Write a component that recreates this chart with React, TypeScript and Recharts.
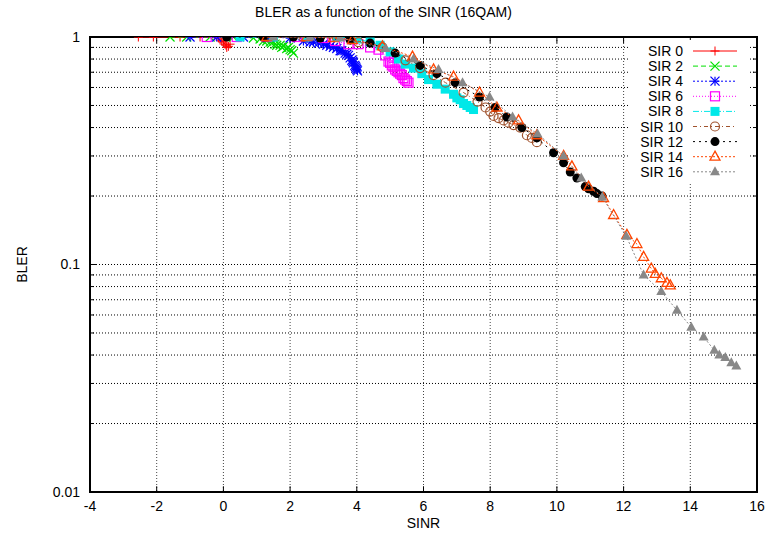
import {
  CartesianGrid,
  Label,
  Legend,
  ReferenceArea,
  ReferenceLine,
  Scatter,
  ScatterChart,
  XAxis,
  YAxis,
} from "recharts";

// --- data (SINR in dB, BLER) ---
const sir0X = [-2.55, -2.1, -1.3, -0.7, -0.15, -0.1, -0.05, 0.0, 0.05, 0.08, 0.1, 0.15, 0.2];
const sir0Y = [1, 1, 1, 1, 0.99, 0.97, 0.96, 0.95, 0.93, 0.92, 0.9, 0.91, 0.93];

const sir2X = [-1.6, -1.1, -0.4, 0.3, 0.9, 1.1, 1.2, 1.3, 1.4, 1.45, 1.55, 1.6, 1.7, 1.75, 1.8, 1.9, 1.95, 2.0, 2.05, 2.1];
const sir2Y = [1, 1, 1, 1, 0.99, 0.98, 0.96, 0.96, 0.95, 0.94, 0.93, 0.92, 0.92, 0.9, 0.91, 0.89, 0.9, 0.88, 0.87, 0.85];

const sir4X = [-1.0, -0.2, 0.6, 1.4, 2.0, 2.4, 2.6, 2.7, 2.85, 3.0, 3.1, 3.2, 3.3, 3.4, 3.5, 3.55, 3.65, 3.7, 3.75, 3.8, 3.85, 3.88, 3.9, 3.94, 3.96, 3.98, 4.0, 4.02];
const sir4Y = [1, 1, 1, 1, 0.99, 0.96, 0.95, 0.95, 0.94, 0.93, 0.92, 0.91, 0.9, 0.89, 0.87, 0.87, 0.85, 0.84, 0.83, 0.81, 0.79, 0.78, 0.77, 0.75, 0.74, 0.73, 0.72, 0.71];

const sir6X = [-0.5, 0.4, 1.3, 2.2, 3.0, 3.35, 3.75, 4.05, 4.4, 4.65, 4.85, 4.95, 5.0, 5.05, 5.1, 5.15, 5.2, 5.25, 5.3, 5.35, 5.4, 5.45, 5.5, 5.55];
const sir6Y = [1, 1, 1, 1, 0.99, 0.96, 0.93, 0.93, 0.9, 0.88, 0.83, 0.78, 0.77, 0.75, 0.74, 0.72, 0.71, 0.7, 0.69, 0.68, 0.66, 0.65, 0.64, 0.63];

const sir8X = [0.5, 1.5, 2.5, 3.4, 4.0, 4.4, 4.7, 5.0, 5.25, 5.45, 5.7, 5.95, 6.15, 6.4, 6.65, 6.9, 7.0, 7.1, 7.2, 7.3, 7.4, 7.5];
const sir8Y = [1, 1, 1, 1, 0.98, 0.95, 0.92, 0.86, 0.8, 0.76, 0.73, 0.69, 0.65, 0.62, 0.59, 0.56, 0.54, 0.53, 0.51, 0.5, 0.49, 0.48];

const sir10X = [1.3, 2.4, 3.4, 4.05, 4.77, 5.46, 5.9, 6.3, 6.66, 7.2, 7.62, 7.86, 8.0, 8.1, 8.25, 8.4, 8.55, 8.7, 8.9, 9.1, 9.25, 9.4];
const sir10Y = [1, 1, 1, 0.95, 0.9, 0.79, 0.73, 0.68, 0.63, 0.57, 0.52, 0.49, 0.47, 0.45, 0.44, 0.43, 0.42, 0.41, 0.4, 0.37, 0.36, 0.345];

const sir12X = [0.1, 1.2, 2.1, 2.9, 3.8, 4.4, 5.15, 5.9, 6.4, 6.95, 7.68, 8.15, 8.5, 8.95, 9.4, 9.9, 10.2, 10.4, 10.6, 10.85, 10.95, 11.1, 11.2, 11.35];
const sir12Y = [1, 1, 1, 0.99, 0.97, 0.94, 0.85, 0.75, 0.69, 0.63, 0.545, 0.49, 0.445, 0.4, 0.36, 0.31, 0.28, 0.255, 0.24, 0.22, 0.215, 0.21, 0.205, 0.2];

const sir14X = [1.3, 2.5, 3.3, 3.87, 4.77, 5.67, 6.3, 6.9, 7.68, 8.2, 8.85, 9.4, 10.2, 10.45, 10.95, 11.4, 11.7, 12.1, 12.4, 12.6, 12.83, 12.95, 13.13, 13.3, 13.4];
const sir14Y = [1, 1, 0.99, 0.97, 0.91, 0.82, 0.72, 0.67, 0.57, 0.49, 0.43, 0.37, 0.3, 0.27, 0.22, 0.196, 0.165, 0.135, 0.123, 0.108, 0.096, 0.091, 0.087, 0.083, 0.081];

const sir16X = [1.5, 2.6, 3.5, 4.86, 5.7, 6.45, 7.17, 7.98, 8.67, 9.42, 10.2, 10.73, 11.36, 12.08, 12.6, 13.13, 13.6, 14.03, 14.4, 14.72, 14.87, 15.05, 15.23, 15.38];
const sir16Y = [1, 1, 0.99, 0.89, 0.8, 0.72, 0.63, 0.545, 0.445, 0.375, 0.3, 0.24, 0.198, 0.133, 0.09, 0.076, 0.063, 0.053, 0.048, 0.042, 0.04, 0.039, 0.037, 0.0358];

const seriesNames = ["SIR 0", "SIR 2", "SIR 4", "SIR 6", "SIR 8", "SIR 10", "SIR 12", "SIR 14", "SIR 16"];
const seriesX = [sir0X, sir2X, sir4X, sir6X, sir8X, sir10X, sir12X, sir14X, sir16X];
const seriesY = [sir0Y, sir2Y, sir4Y, sir6Y, sir8Y, sir10Y, sir12Y, sir14Y, sir16Y];

const xTicks = [-4, -2, 0, 2, 4, 6, 8, 10, 12, 14, 16];
const yLabels = [0.01, 0.1, 1];
const yGrid = [
  0.01, 0.02, 0.03, 0.04, 0.05, 0.06, 0.07, 0.08, 0.09,
  0.1, 0.2, 0.3, 0.4, 0.5, 0.6, 0.7, 0.8, 0.9, 1,
];

// gnuplot-ish line/point styles, one per series
type MarkerKind = "plus" | "cross" | "star" | "square" | "fsquare" | "circle" | "fcircle" | "triangle" | "ftriangle";
const styles: { color: string; dash?: string; marker: MarkerKind }[] = [
  { color: "#ff0000", marker: "plus" },
  { color: "#00e000", dash: "5 3", marker: "cross" },
  { color: "#0000ff", dash: "2 2", marker: "star" },
  { color: "#ff00ff", dash: "1 2", marker: "square" },
  { color: "#00e8e8", dash: "6 2 1 2", marker: "fsquare" },
  { color: "#a0522d", dash: "4 3 1 3", marker: "circle" },
  { color: "#000000", dash: "2 4", marker: "fcircle" },
  { color: "#ff4500", dash: "2 2", marker: "triangle" },
  { color: "#888888", dash: "2 2", marker: "ftriangle" },
];

const FONT = "'Liberation Sans', Arial, Helvetica, sans-serif";
const W = 767;
const H = 541;

function Marker({ kind, cx, cy, color }: { kind: MarkerKind; cx: number; cy: number; color: string }) {
  const r = 4.5;
  switch (kind) {
    case "plus":
      return (
        <g stroke={color} strokeWidth={1}>
          <line x1={cx - r} y1={cy} x2={cx + r} y2={cy} />
          <line x1={cx} y1={cy - r} x2={cx} y2={cy + r} />
        </g>
      );
    case "cross":
      return (
        <g stroke={color} strokeWidth={1.2}>
          <line x1={cx - r} y1={cy - r} x2={cx + r} y2={cy + r} />
          <line x1={cx - r} y1={cy + r} x2={cx + r} y2={cy - r} />
        </g>
      );
    case "star":
      return (
        <g stroke={color} strokeWidth={1.2}>
          <line x1={cx - r} y1={cy} x2={cx + r} y2={cy} />
          <line x1={cx} y1={cy - r} x2={cx} y2={cy + r} />
          <line x1={cx - r} y1={cy - r} x2={cx + r} y2={cy + r} />
          <line x1={cx - r} y1={cy + r} x2={cx + r} y2={cy - r} />
        </g>
      );
    case "square":
      return <rect x={cx - r} y={cy - r} width={2 * r} height={2 * r} fill="none" stroke={color} strokeWidth={1.2} />;
    case "fsquare":
      return <rect x={cx - r} y={cy - r} width={2 * r} height={2 * r} fill={color} />;
    case "circle":
      return <circle cx={cx} cy={cy} r={r} fill="none" stroke={color} strokeWidth={1.2} />;
    case "fcircle":
      return <circle cx={cx} cy={cy} r={r} fill={color} />;
    case "triangle":
      return (
        <polygon
          points={`${cx},${cy - r - 1} ${cx - r - 0.5},${cy + r - 1} ${cx + r + 0.5},${cy + r - 1}`}
          fill="none"
          stroke={color}
          strokeWidth={1.3}
        />
      );
    case "ftriangle":
      return (
        <polygon
          points={`${cx},${cy - r - 1} ${cx - r - 0.5},${cy + r - 1} ${cx + r + 0.5},${cy + r - 1}`}
          fill={color}
        />
      );
  }
  return null;
}

function LegendBox() {
  return (
    <svg width={120} height={142} style={{ display: "block", background: "#fff" }}>
      {seriesNames.map((name, i) => {
        const s = styles[i];
        const y = 11 + i * 15.1;
        return (
          <g key={name}>
            <text x={55} y={y} textAnchor="end" dominantBaseline="central" fontSize={14} fontFamily={FONT} fill="#000">
              {name}
            </text>
            <line x1={65} x2={109} y1={y} y2={y} stroke={s.color} strokeDasharray={s.dash} strokeWidth={1} />
            <Marker kind={s.marker} cx={87} cy={y} color={s.color} />
          </g>
        );
      })}
    </svg>
  );
}

export default function App() {
  const tickStyle = { fontSize: 14, fill: "#000", fontFamily: FONT };

  return (
    <div style={{ position: "absolute", left: 0, top: 0, width: W, height: H, background: "#fff" }}>
      <div
        style={{
          position: "absolute",
          top: 4,
          left: 0,
          width: W,
          textAlign: "center",
          fontFamily: FONT,
          fontSize: 14,
          color: "#000",
        }}
      >
        BLER as a function of the SINR (16QAM)
      </div>
      <ScatterChart width={W} height={H} margin={{ top: 37, right: 10, bottom: 10, left: 10 }}>
        <CartesianGrid horizontal={false} stroke="#444" strokeDasharray="1 2" />
        <CartesianGrid vertical={false} stroke="#000" strokeDasharray="1 2" />
        <XAxis
          type="number"
          dataKey="x"
          domain={[-4, 16]}
          ticks={xTicks}
          interval={0}
          height={39}
          axisLine={false}
          tickLine={false}
          tickSize={0}
          tickMargin={9}
          tick={tickStyle}
          allowDataOverflow
        >
          <Label value="SINR" position="insideBottom" offset={3} style={{ ...tickStyle, textAnchor: "middle" }} />
        </XAxis>
        <YAxis
          type="number"
          dataKey="y"
          scale="log"
          domain={[0.01, 1]}
          ticks={yGrid}
          interval={0}
          width={80}
          axisLine={false}
          tickLine={false}
          tickSize={0}
          tickMargin={10}
          tick={tickStyle}
          tickFormatter={(v: number) => (yLabels.includes(v) ? String(v) : "")}
          allowDataOverflow
        >
          <Label value="BLER" angle={-90} position="insideLeft" offset={12} style={{ ...tickStyle, textAnchor: "middle" }} />
        </YAxis>

        {/* inward tick marks, gnuplot style */}
        {xTicks.slice(1, -1).map((x) => (
          <ReferenceLine key={`xb${x}`} segment={[{ x, y: 0.01 }, { x, y: 0.0106 }]} stroke="#000" />
        ))}
        {xTicks.slice(1, -1).map((x) => (
          <ReferenceLine key={`xt${x}`} segment={[{ x, y: 1 }, { x, y: 0.94 }]} stroke="#000" />
        ))}
        {yGrid.slice(1, -1).map((y) => (
          <ReferenceLine
            key={`yl${y}`}
            segment={[{ x: -4, y }, { x: yLabels.includes(y) ? -3.8 : -3.88, y }]}
            stroke="#000"
          />
        ))}
        {yGrid.slice(1, -1).map((y) => (
          <ReferenceLine
            key={`yr${y}`}
            segment={[{ x: 16, y }, { x: yLabels.includes(y) ? 15.8 : 15.88, y }]}
            stroke="#000"
          />
        ))}

        {seriesNames.map((name, i) => {
          const s = styles[i];
          const data = seriesX[i].map((x, j) => ({ x, y: seriesY[i][j] }));
          return (
            <Scatter
              key={name}
              name={name}
              data={data}
              fill={s.color}
              line={{ stroke: s.color, strokeWidth: 1, strokeDasharray: s.dash }}
              lineType="joint"
              isAnimationActive={false}
              shape={(p: any) => <Marker kind={s.marker} cx={p.cx} cy={p.cy} color={s.color} />}
            />
          );
        })}

        <ReferenceArea x1={-4} x2={16} y1={0.01} y2={1} fill="none" stroke="#000" strokeWidth={2} />

        <Legend
          layout="vertical"
          align="center"
          verticalAlign="middle"
          content={() => <LegendBox />}
          wrapperStyle={{ position: "absolute", left: 628, top: 40, width: 120, height: 142 }}
        />
      </ScatterChart>
    </div>
  );
}
